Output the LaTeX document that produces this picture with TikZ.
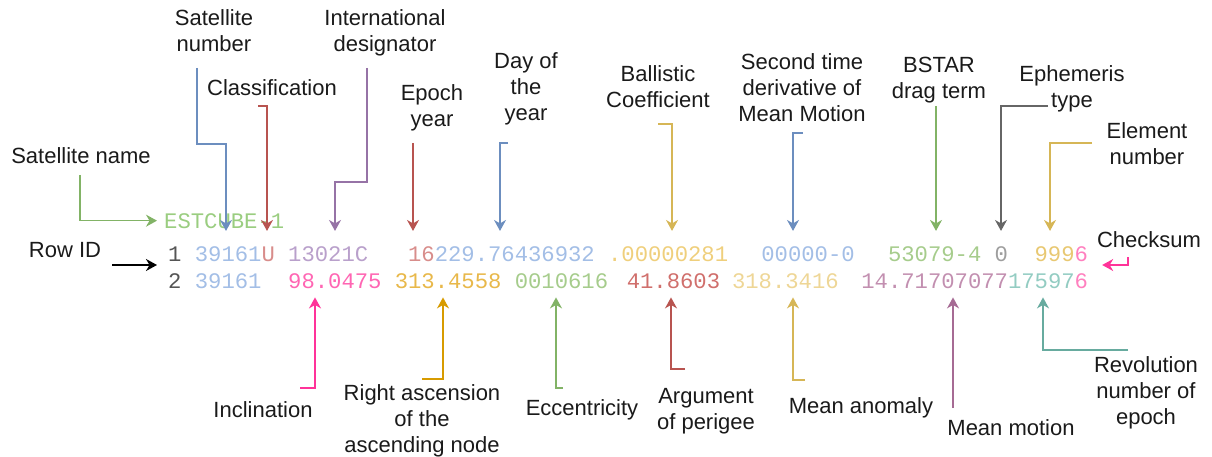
\documentclass[tikz,border=0pt]{standalone}
\usepackage{fontspec}
\setmainfont{Liberation Sans}
\newfontfamily\tlemono{Liberation Mono}
\usetikzlibrary{arrows.meta}
% connector colours
\definecolor{labeltext}{HTML}{1A1A1A}
\definecolor{cGreen}{HTML}{82B366}
\definecolor{cBlue}{HTML}{6C8EBF}
\definecolor{cRed}{HTML}{B85450}
\definecolor{cPurple}{HTML}{9673A6}
\definecolor{cYellow}{HTML}{D6B656}
\definecolor{cGray}{HTML}{666666}
\definecolor{cPink}{HTML}{FF3399}
\definecolor{cOrange}{HTML}{D79B00}
\definecolor{cTeal}{HTML}{67AB9F}
\definecolor{cMauve}{HTML}{A66B94}
% text colours of the element set
\definecolor{tRow}{HTML}{555555}
\definecolor{tGreen}{HTML}{9ACD80}
\definecolor{tBlue}{HTML}{A3BEE6}
\definecolor{tRed}{HTML}{D88D8B}
\definecolor{tPurple}{HTML}{B9A0CB}
\definecolor{tYellow}{HTML}{EFCF7C}
\definecolor{tGreen2}{HTML}{A6CC8C}
\definecolor{tGray}{HTML}{9E9E9E}
\definecolor{tYellow2}{HTML}{E8C872}
\definecolor{tPink}{HTML}{FF80BF}
\definecolor{tPink2}{HTML}{FF66B3}
\definecolor{tOrange}{HTML}{E8B84A}
\definecolor{tRed2}{HTML}{D06F6C}
\definecolor{tYellow3}{HTML}{EED696}
\definecolor{tMauve}{HTML}{C28FB0}
\definecolor{tTeal}{HTML}{93CCC2}
\newcommand\lblfont{\fontsize{22}{26}\selectfont}
\newcommand\tlefont{\tlemono\fontsize{22.22}{26}\selectfont}
\tikzset{
  lbl/.style={font=\lblfont, text=labeltext, align=center, inner sep=0pt, anchor=base},
  fld/.style={font=\tlefont, inner sep=0pt, anchor=base west},
  conn/.style={line width=1.5pt, -{Stealth[length=11pt,width=12pt,inset=3.5pt]}},
}
\newcommand\tlefield[5]{\node[fld,text=#4] (#1) at ({168+#2*13.33},#3) {#5};}
\begin{document}
\begin{tikzpicture}[x=1pt,y=-1pt]
\useasboundingbox (0,0) rectangle (1212,457);
% ---------- element set text ----------
\node[fld,text=tGreen] (name) at (164,228) {ESTCUBE-1};
% row 1
\tlefield{r1}{0}{261}{tRow}{1}
\tlefield{f1sat}{2}{261}{tBlue}{39161}
\tlefield{f1cls}{7}{261}{tRed}{U}
\tlefield{f1intl}{9}{261}{tPurple}{13021C}
\tlefield{f1ey}{18}{261}{tRed}{16}
\tlefield{f1day}{20}{261}{tBlue}{229.76436932}
\tlefield{f1bc}{33}{261}{tYellow}{.00000281}
\tlefield{f1sd}{44.5}{261}{tBlue}{00000-0}
\tlefield{f1bs}{54}{261}{tGreen2}{53079-4}
\tlefield{f1eph}{62}{261}{tGray}{0}
\tlefield{f1el}{65}{261}{tYellow2}{999}
\tlefield{f1cs}{68}{261}{tPink}{6}
% row 2
\tlefield{r2}{0}{288}{tRow}{2}
\tlefield{f2sat}{2}{288}{tBlue}{39161}
\tlefield{f2inc}{9}{288}{tPink2}{98.0475}
\tlefield{f2raan}{17}{288}{tOrange}{313.4558}
\tlefield{f2ecc}{26}{288}{tGreen2}{0010616}
\tlefield{f2arg}{34.4}{288}{tRed2}{41.8603}
\tlefield{f2ma}{42.3}{288}{tYellow3}{318.3416}
\tlefield{f2mm}{52}{288}{tMauve}{14.71707077}
\tlefield{f2rev}{63}{288}{tTeal}{17597}
\tlefield{f2cs}{68}{288}{tPink}{6}
% tip lines
\coordinate (top1) at ([yshift=15pt]f1sat.north);
\coordinate (top2) at ([yshift=-9pt]f2sat.south);
% ---------- labels (anchor = baseline of the last line) ----------
\node[lbl] (lName) at (81,164) {Satellite name};
\node[lbl] (lSatNum) at (214,52) {Satellite\\number};
\node[lbl] (lClass) at (272,96) {Classification};
\node[lbl] (lIntl) at (385,52) {International\\designator};
\node[lbl] (lEpoch) at (432,127) {Epoch\\year};
\node[lbl] (lDay) at (526,121) {Day of\\the\\year};
\node[lbl] (lBall) at (658,108) {Ballistic\\Coefficient};
\node[lbl] (lSec) at (802,122) {Second time\\derivative of\\Mean Motion};
\node[lbl] (lBstar) at (939,99) {BSTAR\\drag term};
\node[lbl] (lEph) at (1072,108) {Ephemeris\\type};
\node[lbl] (lElem) at (1147,165) {Element\\number};
\node[lbl] (lCheck) at (1149,247) {Checksum};
\node[lbl] (lRow) at (65,257) {Row ID};
\node[lbl] (lInc) at (263,417) {Inclination};
\node[lbl] (lRaan) at (422,452) {Right ascension\\of the\\ascending node};
\node[lbl] (lEcc) at (582,415) {Eccentricity};
\node[lbl] (lArg) at (706,429) {Argument\\of perigee};
\node[lbl] (lMa) at (861,413) {Mean anomaly};
\node[lbl] (lMm) at (1011,435) {Mean motion};
\node[lbl] (lRev) at (1146,424) {Revolution\\number of\\epoch};
% ---------- connectors ----------
\coordinate (sName) at (80,175);
\draw[conn,cGreen] (sName) |- ([xshift=-7pt]name.west);

\coordinate (sSatNum) at (197,68); \coordinate (bSatNum) at (226,144);
\draw[conn,cBlue] (sSatNum) |- (bSatNum) -- (bSatNum |- top1);

\coordinate (sClass) at (258,106); \coordinate (bClass) at (267,106);
\draw[conn,cRed] (sClass) -- (bClass) -- (bClass |- top1);

\coordinate (sIntl) at (367,68); \coordinate (bIntl) at (335,182);
\draw[conn,cPurple] (sIntl) |- (bIntl) -- (bIntl |- top1);

\coordinate (sEpoch) at (413,143);
\draw[conn,cRed] (sEpoch) -- (sEpoch |- top1);

\coordinate (sDay) at (508,143); \coordinate (bDay) at (500,143);
\draw[conn,cBlue] (sDay) -- (bDay) -- (bDay |- top1);

\coordinate (sBall) at (658,124); \coordinate (bBall) at (672,124);
\draw[conn,cYellow] (sBall) -- (bBall) -- (bBall |- top1);

\coordinate (sSec) at (803,133); \coordinate (bSec) at (793,133);
\draw[conn,cBlue] (sSec) -- (bSec) -- (bSec |- top1);

\coordinate (sBstar) at (936,106);
\draw[conn,cGreen] (sBstar) -- (sBstar |- top1);

\coordinate (sEph) at (1048,106); \coordinate (bEph) at (1001,106);
\draw[conn,cGray] (sEph) -- (bEph) -- (bEph |- top1);

\coordinate (sElem) at (1092,143); \coordinate (bElem) at (1050,143);
\draw[conn,cYellow] (sElem) -- (bElem) -- (bElem |- top1);

\coordinate (sCheck) at (1128,257); \coordinate (bCheck) at (1128,265);
\draw[conn,cPink] (sCheck) -- (bCheck) -- ([xshift=14pt]f1cs.east |- bCheck);

\coordinate (sRow) at (112,265);
\draw[conn,black] (sRow) -- ([xshift=-11pt]r1.west |- sRow);

\coordinate (sInc) at (300,388); \coordinate (bInc) at (315,388);
\draw[conn,cPink] (sInc) -- (bInc) -- (bInc |- top2);

\coordinate (sRaan) at (422,379); \coordinate (bRaan) at (443,379);
\draw[conn,cOrange] (sRaan) -- (bRaan) -- (bRaan |- top2);

\coordinate (sEcc) at (563,388); \coordinate (bEcc) at (556,388);
\draw[conn,cGreen] (sEcc) -- (bEcc) -- (bEcc |- top2);

\coordinate (sArg) at (685,369); \coordinate (bArg) at (671,369);
\draw[conn,cRed] (sArg) -- (bArg) -- (bArg |- top2);

\coordinate (sMa) at (805,380); \coordinate (bMa) at (793,380);
\draw[conn,cYellow] (sMa) -- (bMa) -- (bMa |- top2);

\coordinate (sMm) at (953,408);
\draw[conn,cMauve] (sMm) -- (sMm |- top2);

\coordinate (sRev) at (1128,350); \coordinate (bRev) at (1043,350);
\draw[conn,cTeal] (sRev) -- (bRev) -- (bRev |- top2);
\end{tikzpicture}
\end{document}
